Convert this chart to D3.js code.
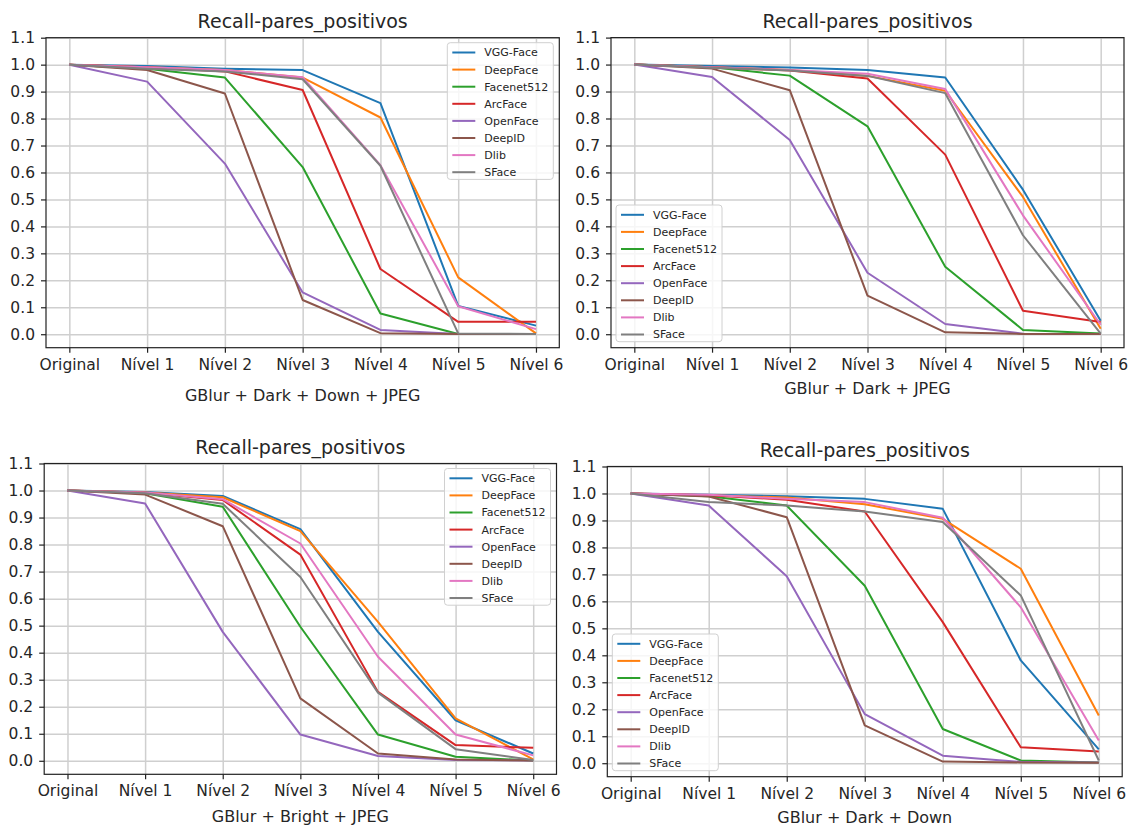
<!DOCTYPE html>
<html>
<head>
<meta charset="utf-8">
<script src="https://cdn.jsdelivr.net/npm/d3@7"></script>
<style>
  html, body { margin: 0; padding: 0; background: #fff; }
  svg { display: block; font-family: "DejaVu Sans", sans-serif; }
</style>
</head>
<body>
<svg id="chart" width="1132" height="827"></svg>
<script>
// ---------- data ----------
const categories = ["Original", "Nível 1", "Nível 2", "Nível 3", "Nível 4", "Nível 5", "Nível 6"];
const models = ["VGG-Face", "DeepFace", "Facenet512", "ArcFace", "OpenFace", "DeepID", "Dlib", "SFace"];
const modelColors = ["#1f77b4", "#ff7f0e", "#2ca02c", "#d62728", "#9467bd", "#8c564b", "#e377c2", "#7f7f7f"];
const yTicks = [0.0, 0.1, 0.2, 0.3, 0.4, 0.5, 0.6, 0.7, 0.8, 0.9, 1.0, 1.1];
const chartTitle = "Recall-pares_positivos";

// GBlur + Dark + Down + JPEG
const recallDarkDownJpeg = [
  [1.0, 0.995, 0.985, 0.980, 0.857, 0.105, 0.032],  // VGG-Face
  [1.0, 0.990, 0.980, 0.952, 0.804, 0.211, 0.003],  // DeepFace
  [1.0, 0.985, 0.952, 0.620, 0.077, 0.001, 0.001],  // Facenet512
  [1.0, 0.990, 0.975, 0.906, 0.242, 0.046, 0.046],  // ArcFace
  [1.0, 0.937, 0.633, 0.155, 0.016, 0.001, 0.001],  // OpenFace
  [1.0, 0.980, 0.893, 0.127, 0.004, 0.001, 0.001],  // DeepID
  [1.0, 0.990, 0.980, 0.953, 0.627, 0.104, 0.019],  // Dlib
  [1.0, 0.985, 0.975, 0.946, 0.625, 0.003, 0.001]   // SFace
];
// GBlur + Dark + JPEG
const recallDarkJpeg = [
  [1.0, 0.995, 0.989, 0.980, 0.952, 0.536, 0.050],
  [1.0, 0.990, 0.980, 0.958, 0.903, 0.509, 0.020],
  [1.0, 0.990, 0.959, 0.771, 0.250, 0.016, 0.003],
  [1.0, 0.990, 0.978, 0.948, 0.666, 0.087, 0.045],
  [1.0, 0.954, 0.720, 0.228, 0.038, 0.002, 0.001],
  [1.0, 0.985, 0.905, 0.143, 0.007, 0.001, 0.001],
  [1.0, 0.990, 0.980, 0.966, 0.909, 0.441, 0.035],
  [1.0, 0.988, 0.978, 0.958, 0.894, 0.367, 0.002]
];
// GBlur + Bright + JPEG
const recallBrightJpeg = [
  [1.0, 0.995, 0.980, 0.857, 0.477, 0.150, 0.027],
  [1.0, 0.993, 0.975, 0.850, 0.514, 0.157, 0.005],
  [1.0, 0.990, 0.940, 0.496, 0.097, 0.015, 0.001],
  [1.0, 0.992, 0.965, 0.763, 0.255, 0.058, 0.048],
  [1.0, 0.952, 0.477, 0.097, 0.018, 0.003, 0.001],
  [1.0, 0.985, 0.868, 0.231, 0.027, 0.005, 0.001],
  [1.0, 0.993, 0.968, 0.804, 0.385, 0.097, 0.020],
  [1.0, 0.990, 0.951, 0.680, 0.252, 0.043, 0.003]
];
// GBlur + Dark + Down
const recallDarkDown = [
  [1.0, 0.995, 0.990, 0.980, 0.943, 0.381, 0.051],
  [1.0, 0.993, 0.985, 0.960, 0.906, 0.721, 0.177],
  [1.0, 0.990, 0.955, 0.658, 0.127, 0.010, 0.003],
  [1.0, 0.993, 0.977, 0.933, 0.523, 0.059, 0.043],
  [1.0, 0.955, 0.693, 0.182, 0.028, 0.005, 0.003],
  [1.0, 0.989, 0.912, 0.140, 0.006, 0.003, 0.002],
  [1.0, 0.995, 0.980, 0.968, 0.910, 0.578, 0.084],
  [1.0, 0.968, 0.955, 0.933, 0.894, 0.622, 0.010]
];

const xLabels = ["GBlur + Dark + Down + JPEG", "GBlur + Dark + JPEG", "GBlur + Bright + JPEG", "GBlur + Dark + Down"];

// ---------- layout ----------
const panels = [
  { values: recallDarkDownJpeg, xlabel: xLabels[0], left: 46.0, right: 559.3, top: 37.7, bottom: 347.7, xlabelDy: 53, legend: "ur" },
  { values: recallDarkJpeg,     xlabel: xLabels[1], left: 611.0, right: 1124.0, top: 37.6, bottom: 347.7, xlabelDy: 46.5, legend: "ll" },
  { values: recallBrightJpeg,   xlabel: xLabels[2], left: 44.2, right: 556.5, top: 463.5, bottom: 774.3, xlabelDy: 48, legend: "ur" },
  { values: recallDarkDown,     xlabel: xLabels[3], left: 607.3, right: 1122.2, top: 466.5, bottom: 776.7, xlabelDy: 46.5, legend: "ll" }
];

const svg = d3.select("#chart");
const textColor = "#262626";

panels.forEach(p => {
  const x = d3.scaleLinear().domain([-0.3, 6.3]).range([p.left, p.right]);
  const y = d3.scaleLinear().domain([-0.05, 1.1]).range([p.bottom, p.top]);
  const g = svg.append("g");
  const w = p.right - p.left, h = p.bottom - p.top;

  // grid
  const gx = g.append("g").attr("transform", `translate(0,${p.bottom})`)
    .call(d3.axisBottom(x).tickValues(d3.range(categories.length)).tickSize(-h).tickFormat(""));
  const gy = g.append("g").attr("transform", `translate(${p.left},0)`)
    .call(d3.axisLeft(y).tickValues(yTicks).tickSize(-w).tickFormat(""));
  [gx, gy].forEach(a => {
    a.select(".domain").remove();
    a.selectAll("line").attr("stroke", "#cfcfcf").attr("stroke-width", 1.5);
  });

  // lines
  const line = d3.line().x((d, i) => x(i)).y(d => y(d));
  p.values.forEach((vals, si) => {
    g.append("path").datum(vals)
      .attr("fill", "none")
      .attr("stroke", modelColors[si])
      .attr("stroke-width", 2)
      .attr("stroke-linejoin", "round")
      .attr("d", line);
  });

  // axes
  const ax = g.append("g").attr("transform", `translate(0,${p.bottom})`)
    .call(d3.axisBottom(x).tickValues(d3.range(categories.length)).tickSize(5).tickPadding(6)
      .tickFormat(i => categories[i]));
  const ay = g.append("g").attr("transform", `translate(${p.left},0)`)
    .call(d3.axisLeft(y).tickValues(yTicks).tickSize(5).tickPadding(6).tickFormat(d3.format(".1f")));
  [ax, ay].forEach(a => {
    a.select(".domain").remove();
    a.selectAll("line").attr("stroke", "#222").attr("stroke-width", 1.2);
    a.selectAll("text").attr("fill", textColor).style("font-size", "15.5px")
      .style("font-family", "'DejaVu Sans', sans-serif");
  });

  // spines
  g.append("rect").attr("x", p.left).attr("y", p.top).attr("width", w).attr("height", h)
    .attr("fill", "none").attr("stroke", "#222").attr("stroke-width", 1.2);

  // title
  g.append("text").attr("x", (p.left + p.right) / 2).attr("y", p.top - 10)
    .attr("text-anchor", "middle").attr("fill", textColor).style("font-size", "19px")
    .text(chartTitle);

  // xlabel
  g.append("text").attr("x", (p.left + p.right) / 2).attr("y", p.bottom + p.xlabelDy)
    .attr("text-anchor", "middle").attr("fill", textColor).style("font-size", "16px")
    .text(p.xlabel);

  // legend
  const rowH = 17.1, lw = 106, lh = 7 * rowH + 17;
  let lx, ly;
  if (p.legend === "ur") { lx = p.right - 6 - lw; ly = p.top + 5; }
  else { lx = p.left + 5; ly = p.bottom - 6 - lh; }
  const lg = g.append("g").attr("transform", `translate(${lx},${ly})`);
  lg.append("rect").attr("width", lw).attr("height", lh).attr("rx", 3)
    .attr("fill", "#fff").attr("fill-opacity", 0.8).attr("stroke", "#d0d0d0").attr("stroke-width", 1);
  models.forEach((m, i) => {
    const ry = 9.8 + i * rowH;
    lg.append("line").attr("x1", 5).attr("x2", 28).attr("y1", ry).attr("y2", ry)
      .attr("stroke", modelColors[i]).attr("stroke-width", 2);
    lg.append("text").attr("x", 37).attr("y", ry).attr("dy", "0.36em")
      .attr("fill", textColor).style("font-size", "11px").text(m);
  });
});
</script>
</body>
</html>
